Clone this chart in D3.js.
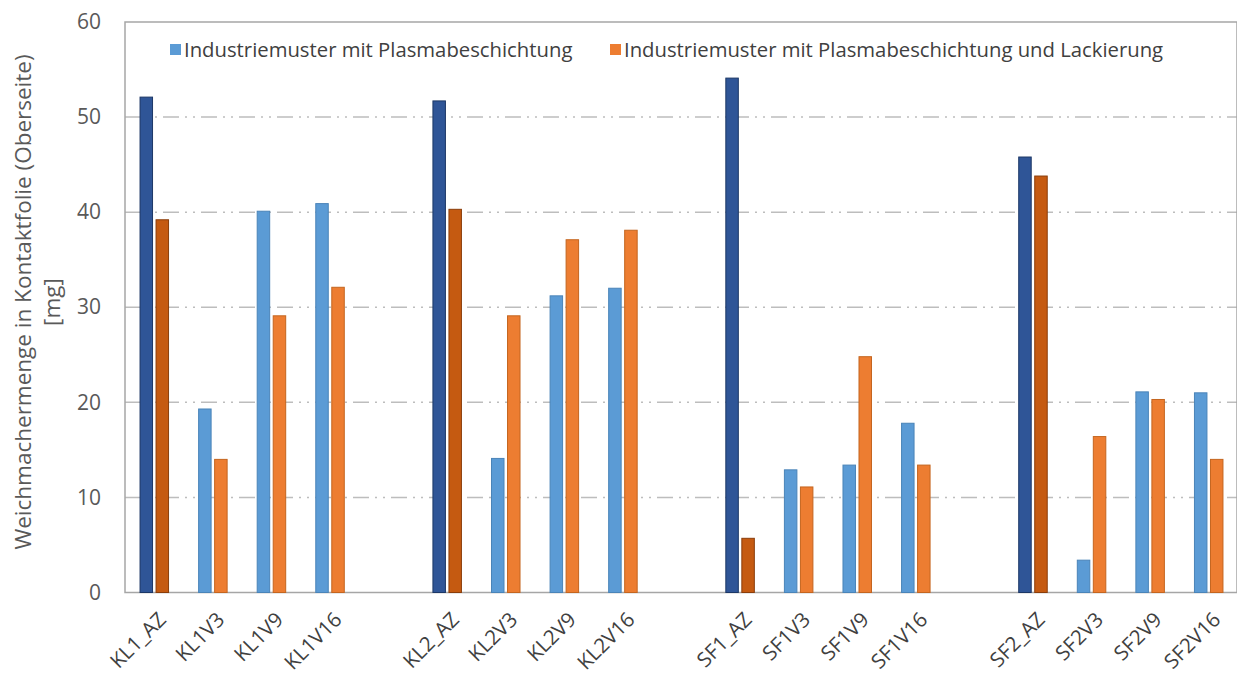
<!DOCTYPE html>
<html>
<head>
<meta charset="utf-8">
<script src="https://cdn.jsdelivr.net/npm/d3@7"></script>
<style>
  html, body { margin: 0; padding: 0; background: #fff; }
  svg { display: block; font-family: "Open Sans", sans-serif; }
  .tick text { fill: #595959; }
</style>
</head>
<body>
<svg id="chart" width="1237" height="679"></svg>
<script>
// sample groups, each gets its own block of four bars
const groups = ['KL1', 'KL2', 'SF1', 'SF2'];
const categories = [
  'KL1_AZ', 'KL1V3', 'KL1V9', 'KL1V16',
  'KL2_AZ', 'KL2V3', 'KL2V9', 'KL2V16',
  'SF1_AZ', 'SF1V3', 'SF1V9', 'SF1V16',
  'SF2_AZ', 'SF2V3', 'SF2V9', 'SF2V16'
];
// Industriemuster mit Plasmabeschichtung
const plasma = [52.1, 19.3, 40.1, 40.9, 51.7, 14.1, 31.2, 32.0, 54.1, 12.9, 13.4, 17.8, 45.8, 3.4, 21.1, 21.0];
// ... und Lackierung
const lackiert = [39.2, 14.0, 29.1, 32.1, 40.3, 29.1, 37.1, 38.1, 5.7, 11.1, 24.8, 13.4, 43.8, 16.4, 20.3, 14.0];
const seriesNames = ['Industriemuster mit Plasmabeschichtung', 'Industriemuster mit Plasmabeschichtung und Lackierung'];
const yTicks = [0, 10, 20, 30, 40, 50, 60];

const svg = d3.select('#chart');
const plotLeft = 125, plotRight = 1237, plotTop = 22, plotBottom = 592.5;

// slots: the categories with one empty slot between groups
const slots = [];
categories.forEach((c, i) => {
  if (i > 0 && i % 4 === 0) slots.push('gap' + i);
  slots.push(c);
});

const x = d3.scaleBand().domain(slots).range([plotLeft, 1238]).padding(0);
const pairW = 28.5;
const xInner = d3.scaleBand().domain(['p', 'l']).range([0, pairW]).paddingInner(0.22);
const y = d3.scaleLinear().domain([0, 60]).range([plotBottom, plotTop]);

const colors = {
  p: { fill: '#5b9bd5', stroke: '#4a84b8' },
  l: { fill: '#ed7d31', stroke: '#c4651f' },
  pAZ: { fill: '#2f5597', stroke: '#1c3766' },
  lAZ: { fill: '#c55a11', stroke: '#8a3d0a' }
};

// grid lines (dash-dot-dot)
svg.append('g')
  .selectAll('line')
  .data(yTicks.filter(t => t > 0 && t < 60))
  .join('line')
  .attr('x1', plotLeft).attr('x2', plotRight)
  .attr('y1', d => y(d)).attr('y2', d => y(d))
  .attr('stroke', '#bdbdbd')
  .attr('stroke-width', 1.5)
  .attr('stroke-dasharray', '16,6,2,6,2,6');

// plot frame
svg.append('rect')
  .attr('x', plotLeft).attr('y', plotTop)
  .attr('width', plotRight - plotLeft).attr('height', plotBottom - plotTop)
  .attr('fill', 'none')
  .attr('stroke', '#a6a6a6')
  .attr('stroke-width', 1.5);

// bars
const rows = categories.map((c, i) => ({ name: c, p: plasma[i], l: lackiert[i], az: c.endsWith('_AZ') }));
const cat = svg.append('g')
  .selectAll('g')
  .data(rows)
  .join('g')
  .attr('transform', d => `translate(${x(d.name) + (x.bandwidth() - pairW) / 2},0)`);

cat.selectAll('rect')
  .data(d => ['p', 'l'].map(k => ({ key: k, value: d[k], az: d.az })))
  .join('rect')
  .attr('x', d => xInner(d.key))
  .attr('width', xInner.bandwidth())
  .attr('y', d => y(d.value))
  .attr('height', d => y(0) - y(d.value))
  .attr('fill', d => colors[d.key + (d.az ? 'AZ' : '')].fill)
  .attr('stroke', d => colors[d.key + (d.az ? 'AZ' : '')].stroke)
  .attr('stroke-width', 1);

// y axis
const yAxis = svg.append('g')
  .attr('transform', `translate(${plotLeft},0)`)
  .call(d3.axisLeft(y).tickValues(yTicks).tickSize(0).tickPadding(24));
yAxis.select('.domain').remove();
yAxis.selectAll('text').attr('font-size', 21).attr('font-family', '"Open Sans", sans-serif');

// x labels
svg.append('g')
  .selectAll('text')
  .data(categories)
  .join('text')
  .attr('transform', d => `translate(${x(d) + x.bandwidth() / 2 + 13},621) rotate(-45)`)
  .attr('text-anchor', 'end')
  .attr('font-size', 20.5)
  .attr('fill', '#404040')
  .text(d => d);

// y title
const yTitle = svg.append('text')
  .attr('transform', 'translate(0,302) rotate(-90)')
  .attr('text-anchor', 'middle')
  .attr('font-size', 22.5)
  .attr('fill', '#595959');
yTitle.append('tspan').attr('x', 0).attr('y', 31).text('Weichmachermenge in Kontaktfolie (Oberseite)');
yTitle.append('tspan').attr('x', 0).attr('y', 60).text('[mg]');

// legend
const legend = svg.append('g')
  .selectAll('g')
  .data(seriesNames)
  .join('g')
  .attr('transform', (d, i) => `translate(${[170, 610][i]},50)`);
legend.append('rect')
  .attr('x', 0).attr('y', -6).attr('width', 11).attr('height', 11)
  .attr('fill', (d, i) => [colors.p.fill, colors.l.fill][i]);
legend.append('text')
  .attr('x', 14).attr('y', 0).attr('dy', '0.35em')
  .attr('font-size', 20.3)
  .attr('fill', '#404040')
  .text(d => d);
</script>
</body>
</html>
